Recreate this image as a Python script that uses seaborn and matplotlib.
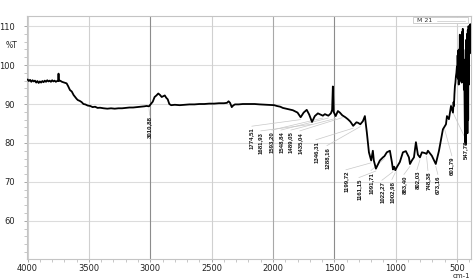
import matplotlib
matplotlib.use("Agg")
import matplotlib.pyplot as plt
import matplotlib.transforms as mtransforms
from matplotlib.patches import Rectangle
from matplotlib.lines import Line2D
import seaborn as sns
import pandas as pd
import numpy as np

# ---- data ----
wavenumber = [4000, 3990, 3980, 3970, 3960, 3950, 3940, 3930, 3920, 3910, 3900, 3890, 3880, 3870,
              3860, 3850, 3840, 3830, 3820, 3810, 3800, 3790, 3780, 3770, 3760, 3752, 3748, 3744,
              3735, 3720, 3700, 3682, 3670, 3655, 3640, 3625, 3610, 3600, 3590, 3575, 3560, 3545,
              3530, 3510, 3490, 3470, 3450, 3430, 3410, 3380, 3350, 3320, 3290, 3260, 3230, 3200,
              3170, 3140, 3110, 3080, 3050, 3030, 3010.88, 2995, 2980, 2965, 2950, 2935, 2920,
              2907, 2895, 2882, 2870, 2858, 2845, 2830, 2800, 2760, 2720, 2680, 2640, 2600, 2560,
              2520, 2480, 2440, 2400, 2375, 2362, 2350, 2336, 2325, 2310, 2280, 2246, 2200, 2150,
              2108, 2050, 1990, 1969, 1940, 1920, 1880, 1838, 1800, 1774.51, 1750, 1725, 1705,
              1681.93, 1659, 1634, 1593.20, 1577, 1548.84, 1528, 1518, 1512, 1506, 1489.05, 1471,
              1455, 1435.04, 1410, 1390, 1370, 1346.31, 1320, 1308, 1288.16, 1267, 1251, 1235,
              1218, 1199.72, 1186, 1178, 1161.15, 1140, 1129, 1104, 1091.71, 1072, 1047, 1031,
              1022.27, 1012, 1002.98, 990, 966, 941, 917, 892, 883.40, 868, 851, 835, 819, 802.03,
              786, 762, 748.38, 737, 705, 673.16, 647, 615, 601.79, 590, 582, 566, 549, 533, 528,
              525, 521, 517, 513, 509, 505, 501, 498, 495, 492, 489, 486, 483, 480, 477, 474, 471,
              468, 465, 462, 459, 456, 453, 450, 447, 444, 441, 438, 435, 432, 429, 427, 424, 421,
              418, 415, 412, 409, 406, 403, 400, 396, 392, 388]
transmittance = [96.3, 95.9, 96.2, 95.7, 96.1, 95.8, 96.0, 95.5, 95.9, 95.4, 95.8, 95.5, 95.9, 95.6,
                 96.0, 95.7, 96.1, 95.8, 96.0, 95.7, 96.1, 95.8, 96.0, 95.7, 95.9, 95.9, 97.8, 95.9,
                 96.0, 95.7, 95.5, 95.3, 94.6, 93.6, 93.2, 92.3, 91.7, 91.3, 91.0, 90.8, 90.5, 90.0,
                 89.9, 89.6, 89.5, 89.2, 89.3, 89.0, 89.05, 88.9, 88.8, 88.9, 88.8, 88.9, 88.9, 89.0,
                 89.1, 89.1, 89.2, 89.3, 89.4, 89.5, 89.4, 90.0, 90.6, 91.8, 92.2, 92.7, 92.3,
                 91.8, 92.0, 92.2, 91.6, 91.2, 90.0, 89.7, 89.8, 89.7, 89.8, 89.9, 89.9, 90.0, 90.0,
                 90.1, 90.1, 90.2, 90.2, 90.3, 90.7, 90.3, 89.2, 89.6, 89.9, 89.9, 90.0, 90.0, 90.0,
                 89.9, 89.8, 89.7, 89.5, 89.3, 89.0, 88.7, 88.4, 87.8, 86.6, 87.8, 88.5, 87.3,
                 85.4, 86.9, 87.6, 87.0, 87.4, 87.0, 87.6, 88.5, 94.5, 88.0, 86.9, 88.2,
                 87.8, 87.1, 86.6, 86.1, 85.5, 84.4, 85.3, 85.2, 84.8, 85.6, 86.9, 82.7,
                 77.6, 75.5, 78.0, 75.5, 73.4, 74.8, 75.5, 76.3, 76.6, 77.6, 78.0, 75.1,
                 73.2, 73.9, 73.0, 73.8, 75.1, 77.6, 77.9, 76.3, 74.6, 75.5, 76.3, 80.2, 77.0, 76.3,
                 77.6, 77.4, 77.2, 78.0, 76.7, 74.6, 78.0, 83.5, 84.2, 84.8, 86.9, 86.1, 89.5, 87.8, 90.5,
                 89.5, 92.5, 94.6, 95.5, 97.1, 98.0, 99.6, 97.0, 102.5, 96.5, 103.8, 95.0, 104.0, 97.5, 107.8, 96.0, 103.5,
                 98.0, 105.0, 95.5, 108.5, 99.0, 109.3, 97.0, 101.5, 93.7, 99.0, 88.0, 80.2, 96.0, 104.0, 79.7, 106.5, 84.0,
                 108.0, 82.5, 109.0, 86.0, 110.0, 95.0, 109.5, 103.0, 110.5, 106.0]

peak_labels = ["3010,88", "1774,51", "1681,93", "1593,20", "1548,84", "1489,05", "1435,04",
               "1346,31", "1288,16", "1199,72", "1161,15", "1091,71", "1022,27", "1002,98",
               "883,40", "802,03", "748,38", "673,16", "601,79", "547,78"]
peak_wn = [3010.88, 1774.51, 1681.93, 1593.20, 1548.84, 1489.05, 1435.04, 1346.31, 1288.16,
           1199.72, 1161.15, 1091.71, 1022.27, 1002.98, 883.40, 802.03, 748.38, 673.16,
           601.79, 547.78]
# where each label sits (x in cm-1, y of label top in %T)
label_x = [3005, 2173, 2100, 2010, 1936, 1855, 1781, 1651, 1561, 1406, 1300, 1202, 1113, 1031,
           933, 827, 737, 656, 542, 427]
label_top = [86.8, 84.0, 82.8, 83.0, 83.0, 83.0, 82.8, 80.5, 79.0, 72.8, 70.8, 72.6, 70.1, 70.3,
             71.6, 72.8, 72.6, 71.6, 76.4, 80.5]

x_ticks = [4000, 3500, 3000, 2500, 2000, 1500, 1000, 500]
y_ticks = [60, 70, 80, 90, 100, 110]

df = pd.DataFrame({"wn": wavenumber, "T": transmittance})

sns.set_theme(style="white")
plt.rcParams["font.family"] = ["DejaVu Sans"]

fig = plt.figure(figsize=(4.74, 2.80), dpi=100)
ax = fig.add_axes([27 / 474, 1 - 259 / 280, (471 - 27) / 474, (259 - 16) / 280])

# grid
for yv in y_ticks:
    ax.axhline(yv, color="#dcdcdc", lw=0.8, zorder=0)
for xv in x_ticks:
    c = "#8c8c8c" if xv in (3000, 1500) else ("#a8a8a8" if xv == 2000 else "#d0d0d0")
    ax.axvline(xv, color=c, lw=0.8, zorder=0)

sns.lineplot(data=df, x="wn", y="T", ax=ax, color="black", lw=1.3,
             estimator=None, sort=False, zorder=3)

ax.set_xlim(4005, 386)
ax.set_ylim(50.2, 112.6)
ax.set_xticks(x_ticks)
ax.set_xticks(np.arange(400, 4001, 100), minor=True)
ax.set_yticks(y_ticks)
ax.set_yticks(np.arange(52, 112, 2), minor=True)
ax.set_xlabel("")
ax.set_ylabel("")
ax.tick_params(axis="both", which="major", labelsize=6, colors="#9a9a9a",
               labelcolor="#222222", length=2.5, width=0.6, direction="out")
ax.tick_params(axis="both", which="minor", colors="#b0b0b0", length=2, width=0.5,
               direction="out")
ax.tick_params(axis="x", which="both", bottom=True, pad=1)
ax.tick_params(axis="y", which="both", left=True, pad=6)
for s in ax.spines.values():
    s.set_color("#c4c4c4")
    s.set_linewidth(0.8)

# %T label
trans = mtransforms.blended_transform_factory(ax.transAxes, ax.transData)
ax.text(-10 / 444, 105.1, "%T", transform=trans, ha="right", va="center",
        fontsize=5.5, color="#222222")
fig.text(470 / 474, 1 - 276.5 / 280, "cm-1", ha="right", va="center", fontsize=5,
         color="#222222")

# peak labels with leader lines
wn_arr = np.array(wavenumber)
t_arr = np.array(transmittance)
order = np.argsort(wn_arr)
for lab, pw, lx, lt in zip(peak_labels, peak_wn, label_x, label_top):
    ty = np.interp(pw, wn_arr[order], t_arr[order])
    ax.plot([lx, pw], [lt + 0.3, ty - 0.6], color="#c8c8c8", lw=0.5, zorder=2)
    ax.text(lx, lt, lab, rotation=90, ha="center", va="top", fontsize=4.3,
            family=["Liberation Sans", "DejaVu Sans"], fontweight="bold",
            color="#111111", zorder=4)

# small legend box "M 21"
fig.patches.append(Rectangle((413 / 474, 1 - 23 / 280), 55 / 474, 6 / 280,
                             transform=fig.transFigure, facecolor="white",
                             edgecolor="#c8c8c8", lw=0.6, zorder=5))
fig.text(425 / 474, 1 - 20 / 280, "M 21", ha="center", va="center", fontsize=4.5,
         color="#333333", zorder=6)
fig.lines.append(Line2D([437 / 474, 465 / 474], [1 - 21 / 280, 1 - 21 / 280],
                        transform=fig.transFigure, color="#d0d0d0", lw=0.6, zorder=6))

fig.savefig("out.png", dpi=100)
